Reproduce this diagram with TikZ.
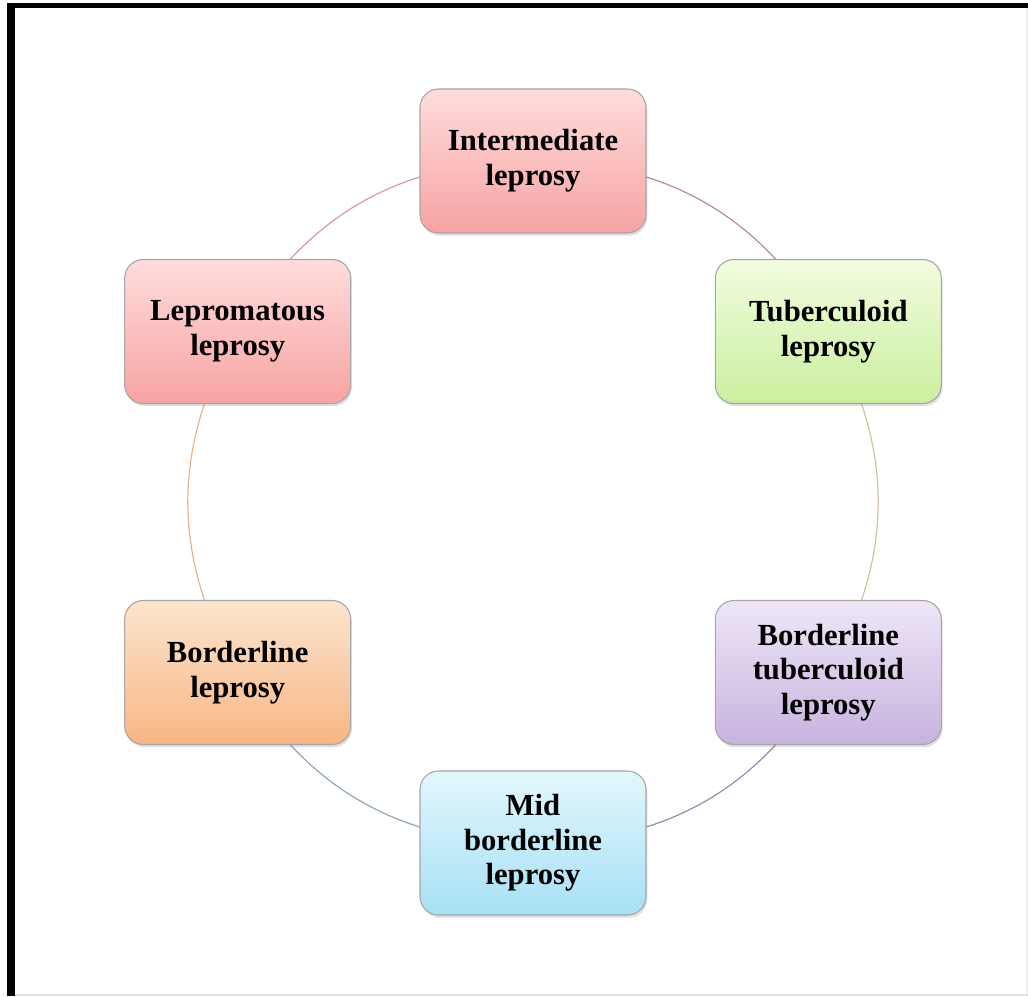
\documentclass[tikz,border=0pt]{standalone}
\usepackage{fontspec}
\setmainfont{Liberation Serif}
\usetikzlibrary{shadows,calc,backgrounds}

\begin{document}
\begin{tikzpicture}[x=0.75pt,y=0.75pt,
    stage/.style={rounded corners=14pt, draw=black!35, line width=0.8pt,
        minimum width=169.5pt, minimum height=108pt, align=center,
        font=\fontsize{23}{26}\selectfont\bfseries,
        drop shadow={opacity=0.25, shadow xshift=1pt, shadow yshift=-2pt}},
    link/.style={line width=0.9pt, bend left=30}]

    \definecolor{redtop}{HTML}{FFDCDC}    \definecolor{redbot}{HTML}{F7A3A3}
    \definecolor{greentop}{HTML}{F1FCDF}  \definecolor{greenbot}{HTML}{CBEF9E}
    \definecolor{purpletop}{HTML}{EFE6F7} \definecolor{purplebot}{HTML}{C7B3DF}
    \definecolor{bluetop}{HTML}{E2F7FD}   \definecolor{bluebot}{HTML}{A7E0F5}
    \definecolor{orangetop}{HTML}{FDE5CF} \definecolor{orangebot}{HTML}{F7B685}

    % frame
    \useasboundingbox (0,0) rectangle (1028,996);
    \fill[black] (7,0) rectangle (15,993);
    \fill[black] (7,988) rectangle (1028,993);
    \fill[black!12] (15,0) rectangle (1028,2);
    \fill[black!6] (1026,2) rectangle (1028,988);

    \coordinate (c) at (533,494);

    \node[stage, top color=redtop, bottom color=redbot] (inter) at ($(c)+(90:341)$) {Intermediate\\leprosy};
    \node[stage, top color=greentop, bottom color=greenbot] (tuber) at ($(c)+(30:341)$) {Tuberculoid\\leprosy};
    \node[stage, top color=purpletop, bottom color=purplebot] (btuber) at ($(c)+(-30:341)$) {Borderline\\tuberculoid\\leprosy};
    \node[stage, top color=bluetop, bottom color=bluebot] (mid) at ($(c)+(-90:341)$) {Mid\\borderline\\leprosy};
    \node[stage, top color=orangetop, bottom color=orangebot] (border) at ($(c)+(-150:341)$) {Borderline\\leprosy};
    \node[stage, top color=redtop, bottom color=redbot] (lepro) at ($(c)+(150:341)$) {Lepromatous\\leprosy};

    % ring, behind the boxes
    \begin{pgfonlayer}{background}
    \draw[link, color={rgb,255:red,184;green,140;blue,149}] (inter.center) to (tuber.center);
    \draw[link, color={rgb,255:red,210;green,195;blue,158}] (tuber.center) to (btuber.center);
    \draw[link, color={rgb,255:red,154;green,136;blue,174}] (btuber.center) to (mid.center);
    \draw[link, color={rgb,255:red,143;green,165;blue,189}] (mid.center) to (border.center);
    \draw[link, color={rgb,255:red,230;green,180;blue,140}] (border.center) to (lepro.center);
    \draw[link, color={rgb,255:red,212;green,155;blue,160}] (lepro.center) to (inter.center);
    \end{pgfonlayer}

\end{tikzpicture}
\end{document}
